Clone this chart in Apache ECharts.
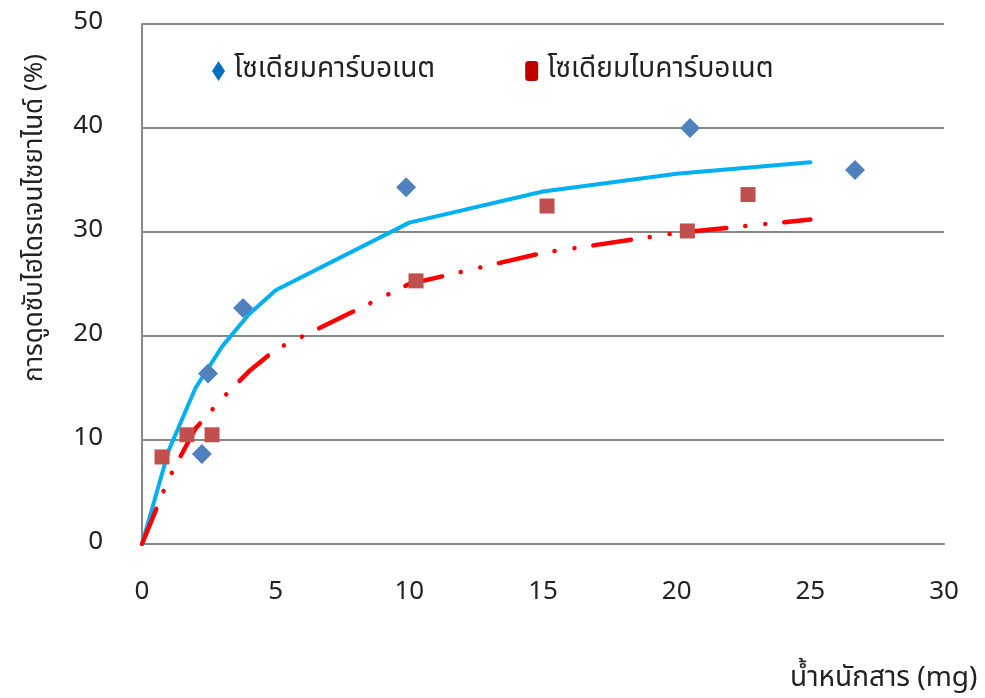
<!DOCTYPE html>
<html><head><meta charset="utf-8">
<script src="https://cdn.jsdelivr.net/npm/echarts@6/dist/echarts.min.js"></script>
<style>html,body{margin:0;padding:0;background:#fff}#c{width:985px;height:698px}</style>
</head><body><div id="c"></div>
<script>
const xTicks = [0, 5, 10, 15, 20, 25, 30];
const yTicks = [0, 10, 20, 30, 40, 50];
const nameNaCO3 = 'โซเดียมคาร์บอเนต';
const nameNaHCO3 = 'โซเดียมไบคาร์บอเนต';
const xAxisTitle = 'น้ำหนักสาร (mg)';
const yAxisTitle = 'การดูดซับไฮโดรเจนไซยาไนด์ (%)';
// measured points (mg, %)
const carbonatePts = [[2.24, 8.65], [2.47, 16.4], [3.78, 22.7], [9.88, 34.3], [20.5, 40.0], [26.67, 35.96]];
const bicarbonatePts = [[0.75, 8.37], [1.68, 10.5], [2.62, 10.5], [10.25, 25.3], [15.15, 32.5], [20.4, 30.1], [22.67, 33.6]];
// trend lines
const carbonateTrend = [[0, 0], [1, 9.0], [2, 15.0], [3, 19.0], [4, 22.1], [5, 24.4], [10, 30.9], [15, 33.9], [20, 35.6], [25, 36.7]];
const bicarbonateTrend = [[0, 0], [1, 6.3], [2, 11.1], [3, 14.0], [4, 16.6], [5, 18.7], [10, 25.0], [15, 28.0], [20, 29.9], [25, 31.2]];

const FONT = '"Noto Sans Thai", "Noto Sans", "DejaVu Sans", sans-serif';
const chart = echarts.init(document.getElementById('c'));
chart.setOption({
  animation: false,
  backgroundColor: '#fff',
  textStyle: { fontFamily: FONT },
  grid: { left: 142, right: 41, top: 24, bottom: 154, containLabel: false },
  xAxis: {
    type: 'value', min: xTicks[0], max: xTicks[xTicks.length - 1], interval: 5,
    axisLine: { show: true, lineStyle: { color: '#878787', width: 2 } },
    axisTick: { show: false },
    splitLine: { show: false },
    axisLabel: { fontSize: 26, color: '#222', margin: 37, fontFamily: FONT }
  },
  yAxis: {
    type: 'value', min: yTicks[0], max: yTicks[yTicks.length - 1], interval: 10,
    axisLine: { show: true, lineStyle: { color: '#878787', width: 2 } },
    axisTick: { show: false },
    splitLine: { show: true, lineStyle: { color: '#878787', width: 2 } },
    axisLabel: { fontSize: 26, color: '#222', margin: 39, fontFamily: FONT }
  },
  legend: {
    left: 207, top: 52, itemGap: 90, itemWidth: 13, itemHeight: 20,
    textStyle: { fontSize: 28, color: '#222', fontFamily: FONT, padding: [0, 0, 0, 4] },
    data: [
      { name: nameNaCO3, icon: 'diamond', itemStyle: { color: '#0070C0' } },
      { name: nameNaHCO3, icon: 'roundRect', itemStyle: { color: '#C00000' } }
    ]
  },
  graphic: [
    { type: 'text', left: 790, top: 666, style: { text: xAxisTitle, fontSize: 28, fill: '#222', fontFamily: FONT } },
    { type: 'text', x: 37, y: 218, rotation: Math.PI / 2, style: { text: yAxisTitle, fontSize: 26, fill: '#222', fontFamily: FONT, align: 'center', verticalAlign: 'middle' } }
  ],
  series: [
    { name: 'trendA', type: 'line', data: carbonateTrend, showSymbol: false, symbol: 'none', smooth: false, z: 2,
      lineStyle: { color: '#00B0F0', width: 4, cap: 'round', join: 'round' } },
    { name: 'trendB', type: 'line', data: bicarbonateTrend, showSymbol: false, symbol: 'none', smooth: false, z: 2,
      lineStyle: { color: '#FF0000', width: 4.5, cap: 'round', join: 'round', type: [38, 19, 0.1, 20, 0.1, 19] } },
    { name: nameNaCO3, type: 'scatter', data: carbonatePts, symbol: 'diamond', symbolSize: [20, 20], z: 3,
      itemStyle: { color: '#4F81BD', opacity: 1 } },
    { name: nameNaHCO3, type: 'scatter', data: bicarbonatePts, symbol: 'rect', symbolSize: 15, z: 3,
      itemStyle: { color: '#C0504D', opacity: 1 } }
  ]
});
</script></body></html>
